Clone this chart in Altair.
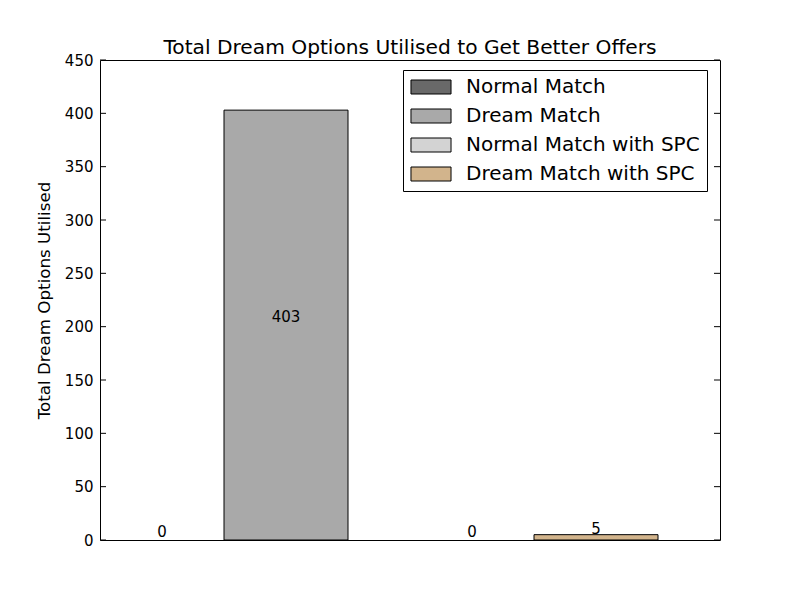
import altair as alt
import pandas as pd

# bar data
series = ["Normal Match", "Dream Match", "Normal Match with SPC", "Dream Match with SPC"]
values = [0, 403, 0, 5]
slots = [0.5, 1.5, 3.0, 4.0]  # bar centres on the x axis (two groups of two)
colors = ["#696969", "#a9a9a9", "#d3d3d3", "#d2b48c"]
y_ticks = [0, 50, 100, 150, 200, 250, 300, 350, 400, 450]

W, H = 620, 480
FONT = "DejaVu Sans"

df = pd.DataFrame({"series": series, "value": values, "slot": slots})
df["left"] = df["slot"] - 0.5
df["right"] = df["slot"] + 0.5
df["mid"] = df["value"] / 2

x_scale = alt.Scale(domain=[0, 5], nice=False, zero=False)
y_scale = alt.Scale(domain=[0, 450], nice=False)

bars = alt.Chart(df).mark_bar(stroke="black", opacity=1).encode(
    x=alt.X("left:Q", scale=x_scale, axis=None),
    x2="right:Q",
    y=alt.Y("value:Q", scale=y_scale,
            axis=alt.Axis(values=y_ticks, title="Total Dream Options Utilised",
                          tickSize=0, labelPadding=7, grid=False, domain=False,
                          titlePadding=11)),
    y2=alt.datum(0),
    strokeWidth=alt.condition(alt.datum.value > 0, alt.value(1), alt.value(0)),
    color=alt.Color("series:N",
                    scale=alt.Scale(domain=series, range=colors),
                    legend=alt.Legend(
                        title=None, orient="none", legendX=303, legendY=10,
                        strokeColor="black", fillColor="white", padding=7,
                        symbolType="M-2.86,-1L2.86,-1L2.86,1L-2.86,1Z",
                        symbolSize=196, symbolOffset=11, symbolStrokeColor="black",
                        symbolStrokeWidth=1, symbolOpacity=1,
                        labelFontSize=20, labelFont=FONT, labelColor="black",
                        labelLimit=400, labelOffset=25, rowPadding=9,
                        cornerRadius=0)),
)

labels = alt.Chart(df).mark_text(baseline="bottom", fontSize=15, font=FONT,
                                 color="black").encode(
    x=alt.X("slot:Q", scale=x_scale),
    y=alt.Y("mid:Q", scale=y_scale),
    text=alt.Text("value:Q"),
)

ticks_df = pd.DataFrame({"t": y_ticks})
left_ticks = alt.Chart(ticks_df).mark_rule(color="black", strokeWidth=1).encode(
    y=alt.Y("t:Q", scale=y_scale),
    x=alt.value(0), x2=alt.value(6),
)
right_ticks = alt.Chart(ticks_df).mark_rule(color="black", strokeWidth=1).encode(
    y=alt.Y("t:Q", scale=y_scale),
    x=alt.value(W - 6), x2=alt.value(W),
)

chart = alt.layer(bars, labels, left_ticks, right_ticks).properties(
    width=W, height=H,
    autosize=alt.AutoSizeParams(type="none"),
    padding={"left": 92, "top": 52, "right": 72, "bottom": 52},
    title=alt.Title("Total Dream Options Utilised to Get Better Offers",
                    font=FONT, fontSize=20.2, fontWeight="normal", offset=-5,
                    color="black"),
).configure_view(
    stroke="black", strokeWidth=1
).configure_axis(
    labelFont=FONT, labelFontSize=15, labelColor="black",
    titleFont=FONT, titleFontSize=16.7, titleColor="black", titleFontWeight="normal",
)

chart.save("out.html", embed_options={"renderer": "svg", "actions": False})
